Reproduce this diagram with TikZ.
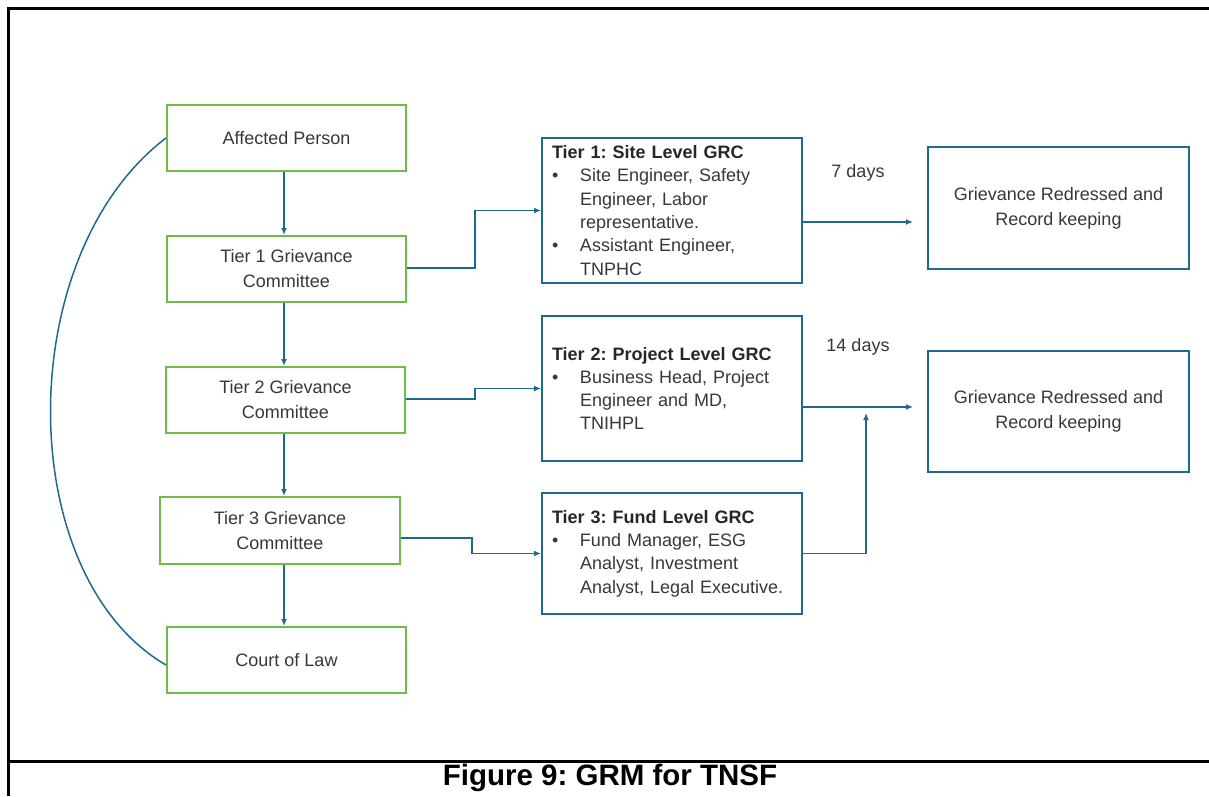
\documentclass[tikz,border=0pt]{standalone}
\usepackage{fontspec}
\setmainfont{Liberation Sans}
\usetikzlibrary{arrows.meta}
\definecolor{gboxc}{RGB}{112,186,72}
\definecolor{bline}{RGB}{31,105,140}
\definecolor{txt}{RGB}{55,55,55}
\newcommand\bitem{\makebox[28pt][l]{\textbullet}}
\newcommand\bind{\hspace*{28pt}}
\frenchspacing
\begin{document}
\begin{tikzpicture}[x=1pt,y=-1pt,
  gbox/.style={draw=gboxc, line width=2pt, inner sep=0pt, align=center, text=txt,
    minimum width=239pt, minimum height=66pt, font=\fontsize{18}{25}\selectfont},
  bbox/.style={draw=bline, line width=2pt, inner xsep=10pt, inner ysep=0pt, align=left, text=txt,
    text width=240pt, minimum height=145pt, font=\fontsize{18}{23.3}\selectfont},
  rbox/.style={draw=bline, line width=2pt, inner sep=0pt, align=center, text=txt,
    minimum width=261pt, minimum height=121pt, font=\fontsize{18}{25}\selectfont},
  conn/.style={draw=bline, line width=1.5pt},
  arr/.style={conn, -{Latex[length=7pt,width=6pt]}},
  lbl/.style={text=txt, inner sep=0pt, font=\fontsize{18}{22}\selectfont},
  frame/.style={line width=3pt, black}
]
\useasboundingbox (0,0) rectangle (1209,796);

% frame
\draw[frame] (8,796) -- (8,8) -- (1209,8);
\draw[frame] (8,761) -- (1209,761);
\node[inner sep=0pt, font=\fontsize{29.5}{32}\selectfont\bfseries] (cap) at (610,778) {Figure 9: GRM for TNSF};

% left column
\node[gbox] (ap) at (286.5,138) {Affected Person};
\node[gbox] (g1) at (286.5,269) {Tier 1 Grievance\\Committee};
\node[gbox] (g2) at (285.5,400) {Tier 2 Grievance\\Committee};
\node[gbox, minimum width=240pt, minimum height=67pt] (g3) at (280,530.5) {Tier 3 Grievance\\Committee};
\node[gbox] (cl) at (286.5,660) {Court of Law};

% middle column
\node[bbox] (s1) at (672,210.5) {{\color{black!85}\bfseries Tier 1: Site Level GRC}\\
\bitem Site Engineer, Safety\\ \bind Engineer, Labor\\ \bind representative.\\
\bitem Assistant Engineer,\\ \bind TNPHC};
\node[bbox] (s2) at (672,388.5) {{\color{black!85}\bfseries Tier 2: Project Level GRC}\\
\bitem Business Head, Project\\ \bind Engineer and MD,\\ \bind TNIHPL};
\node[bbox, minimum height=121pt] (s3) at (672,553.5) {{\color{black!85}\bfseries Tier 3: Fund Level GRC}\\
\bitem Fund Manager, ESG\\ \bind Analyst, Investment\\ \bind Analyst, Legal Executive.};

% right column
\node[rbox, minimum height=122pt] (r1) at (1058.5,208) {Grievance Redressed and\\Record keeping};
\node[rbox] (r2) at (1058.5,411.5) {Grievance Redressed and\\Record keeping};

\node[lbl] (d7) at (858,173) {7 days};
\node[lbl] (d14) at (858,347) {14 days};

\coordinate (e1) at (913,222);
\coordinate (e2) at (913,407);
\coordinate (e3) at (866,413);

% vertical arrows
\draw[arr] ([xshift=-2.5pt]ap.south) -- ([xshift=-2.5pt]g1.north);
\draw[arr] ([xshift=-2.5pt]g1.south) -- ([xshift=-1.5pt]g2.north);
\draw[arr] ([xshift=-1.5pt]g2.south) -- ([xshift=-1.5pt]g2.south |- g3.north);
\draw[arr] ([xshift=-2.5pt]cl.north |- g3.south) -- ([xshift=-2.5pt]cl.north);

% curve
\draw[conn] (ap.west) .. controls (12,255) and (12,575) .. ([yshift=-5pt]cl.west);

% elbows to middle column
\draw[arr] ([yshift=1pt]g1.east) -- ++(68,0) |- (s1.west);
\draw[arr] ([yshift=1pt]g2.east) -- ++(69,0) |- (s2.west);
\draw[arr] ([yshift=-7.5pt]g3.east) -- ++(71,0) |- (s3.west);

% to right column
\draw[arr] ([yshift=-11.5pt]s1.east) -- (e1);
\draw[arr] ([yshift=-18.5pt]s2.east) -- (e2);
\draw[arr] (s3.east) -| (e3);
\end{tikzpicture}
\end{document}
